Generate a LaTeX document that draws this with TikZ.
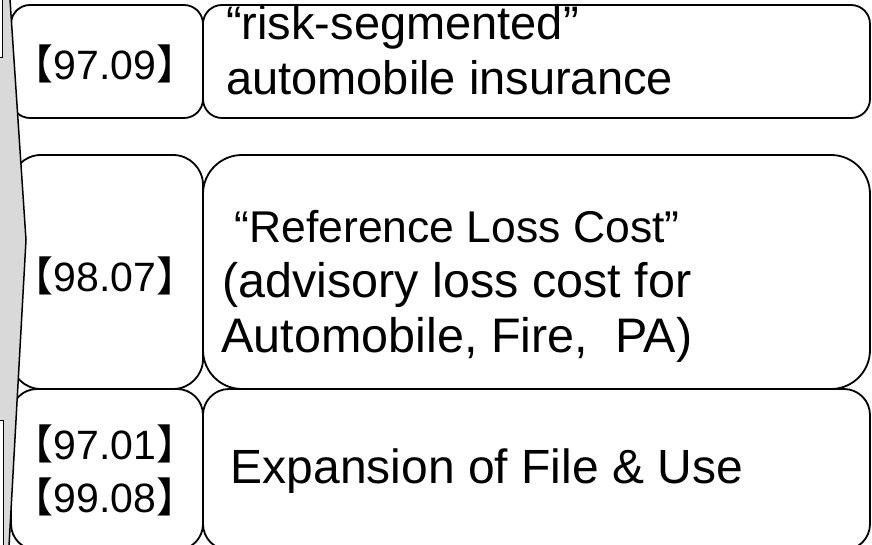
\documentclass[tikz,border=0pt]{standalone}
\usepackage{fontspec}
\setmainfont{Liberation Sans}
\newfontfamily\cjkfont{Noto Sans CJK JP}
\usetikzlibrary{positioning}

\newcommand{\lbr}{{\cjkfont 【}}
\newcommand{\rbr}{{\cjkfont 】}}

\tikzset{
  panel/.style={draw=black, line width=1.8pt, fill=white},
  datelabel/.style={inner sep=0pt, align=center, font=\fontsize{41}{53}\selectfont},
  itemlabel/.style={inner sep=0pt, font=\fontsize{47}{55}\selectfont},
}

\begin{document}
\begin{tikzpicture}[x=1pt, y=-1pt]
\useasboundingbox (0,0) rectangle (872,545);
\clip (0,0) rectangle (872,545);

% rows
\draw[panel, rounded corners=19pt] (11,5) rectangle (203,118);
\draw[panel, rounded corners=19pt] (203,5) rectangle (870,118);
\draw[panel, rounded corners=30pt] (11,155) rectangle (203,389);
\draw[panel, rounded corners=39pt] (203,155) rectangle (870,389);
\draw[panel, rounded corners=26pt] (11,389) rectangle (203,550);
\draw[panel, rounded corners=26pt] (203,389) rectangle (870,550);

% time arrow on the left
\fill[gray!30] (-5,-5) -- (9.7,-5) -- (26,240) -- (8.8,550) -- (-5,550) -- cycle;
\draw[line width=1.5pt] (9.7,-5) -- (26,240) -- (8.8,550);
\draw[fill=white, line width=1pt] (-5,-5) rectangle (2,58);
\draw[fill=white, line width=1pt] (-5,420) rectangle (3,550);

% dates
\node[datelabel] (d9709) at (105,64) {\lbr97.09\rbr};
\node[datelabel] (d9807) at (105,276) {\lbr98.07\rbr};
\node[datelabel] (d9701) at (105,470) {\lbr97.01\rbr\\\lbr99.08\rbr};

% items
\node[itemlabel, align=left, anchor=west] (risk) at (226,50)
  {``risk-segmented''\\automobile insurance};
\node[itemlabel, align=center, font=\fontsize{48.5}{55}\selectfont] (refloss) at (457,286)
  {{\fontsize{44.5}{55}\selectfont``Reference Loss Cost''}\\(advisory loss cost for\\Automobile, Fire,~~PA)};
\node[itemlabel, font=\fontsize{48}{55}\selectfont] (fileuse) at (487,471) {Expansion of File \& Use};
\end{tikzpicture}
\end{document}
